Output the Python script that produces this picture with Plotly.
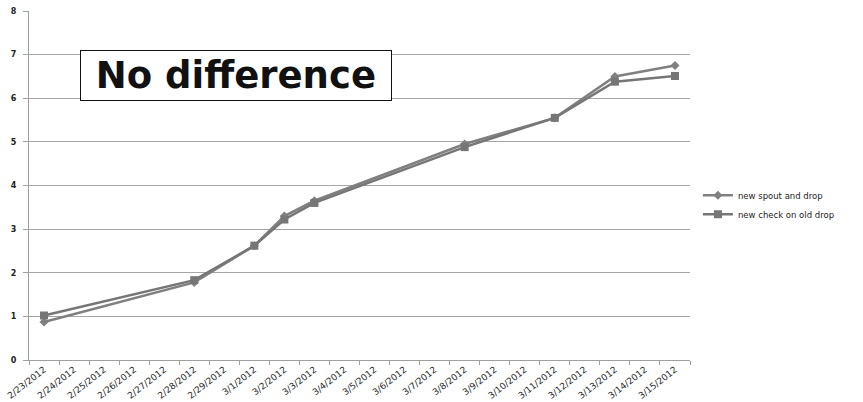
import plotly.graph_objects as go

dates = ["2/23/2012", "2/24/2012", "2/25/2012", "2/26/2012", "2/27/2012", "2/28/2012", "2/29/2012",
         "3/1/2012", "3/2/2012", "3/3/2012", "3/4/2012", "3/5/2012", "3/6/2012", "3/7/2012",
         "3/8/2012", "3/9/2012", "3/10/2012", "3/11/2012", "3/12/2012", "3/13/2012", "3/14/2012", "3/15/2012"]

meas_dates = ["2/23/2012", "2/28/2012", "3/1/2012", "3/2/2012", "3/3/2012", "3/8/2012", "3/11/2012", "3/13/2012", "3/15/2012"]
spout_vals = [0.87, 1.78, 2.62, 3.30, 3.65, 4.95, 5.55, 6.50, 6.75]
check_vals = [1.02, 1.83, 2.62, 3.22, 3.60, 4.88, 5.55, 6.38, 6.51]

fig = go.Figure()
fig.add_trace(go.Scatter(
    x=meas_dates, y=spout_vals, name="new spout and drop", mode="lines+markers",
    line=dict(color="#808080", width=2.5),
    marker=dict(symbol="diamond", size=7, color="#808080")))
fig.add_trace(go.Scatter(
    x=meas_dates, y=check_vals, name="new check on old drop", mode="lines+markers",
    line=dict(color="#767676", width=2.5),
    marker=dict(symbol="square", size=8, color="#767676")))

fig.update_layout(
    width=863, height=402,
    margin=dict(l=29, r=173, t=11, b=42),
    paper_bgcolor="white", plot_bgcolor="white",
    font=dict(family="DejaVu Sans", color="#222222"),
    xaxis=dict(type="category", categoryorder="array", categoryarray=dates,
               range=[-0.5, len(dates) - 0.5], tickson="boundaries",
               ticks="outside", ticklen=4, tickcolor="#a0a0a0",
               showline=True, linecolor="#a0a0a0", linewidth=1,
               showgrid=False, tickangle=-38, automargin=False,
               tickfont=dict(size=9, color="#2a2a2a")),
    yaxis=dict(range=[0, 8], dtick=1, ticks="outside", ticklen=5, tickcolor="#a0a0a0",
               showline=True, linecolor="#a0a0a0", linewidth=1,
               showgrid=True, gridcolor="#a6a6a6", gridwidth=1,
               zeroline=False, automargin=False, ticklabelstandoff=5,
               tickfont=dict(size=8, color="#222222", family="DejaVu Sans, sans-serif", weight="bold")),
    legend=dict(x=1.012, y=0.445, xanchor="left", yanchor="middle",
                font=dict(size=8.5, color="#222222"), bgcolor="rgba(0,0,0,0)",
                tracegroupgap=2, itemwidth=30),
    showlegend=True,
)

fig.add_annotation(
    xref="paper", yref="paper", x=0.313, y=0.815, xanchor="center", yanchor="middle",
    text="&nbsp;<b>No difference</b>&nbsp;", showarrow=False,
    font=dict(size=37, color="#111111", family="DejaVu Sans"),
    bordercolor="#111111", borderwidth=1, borderpad=3, bgcolor="white")

fig.write_html("out.html")
